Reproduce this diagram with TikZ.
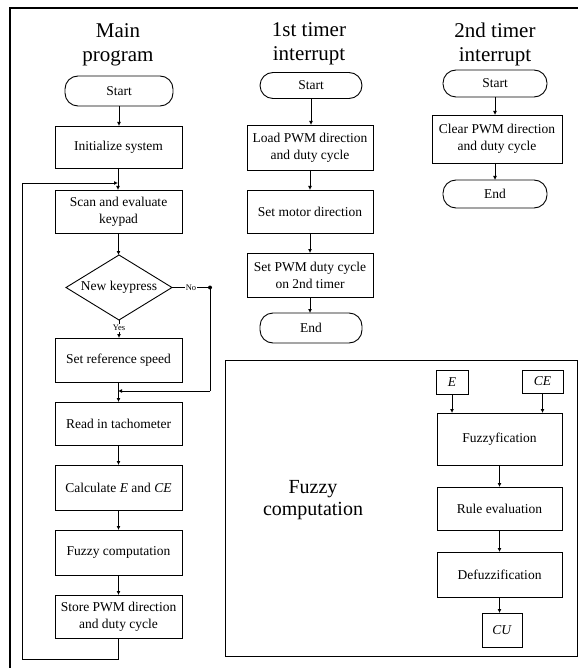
\documentclass[tikz,border=0pt]{standalone}
\usepackage{fontspec}
\setmainfont{Liberation Serif}
\usetikzlibrary{shapes.geometric,arrows.meta}
\begin{document}
\begin{tikzpicture}[x=1pt,y=-1pt,
  every node/.style={inner sep=0pt,outer sep=0pt},
  box/.style={draw,line width=0.9pt,align=center,font=\fontsize{13.5}{17}\selectfont},
  term/.style={draw,line width=0.9pt,rounded corners=13pt,font=\fontsize{13.5}{15}\selectfont},
  dec/.style={draw,diamond,aspect=1.63,line width=0.9pt,font=\fontsize{13.5}{15}\selectfont},
  ttl/.style={align=center,font=\fontsize{21}{24}\selectfont},
  lbl/.style={font=\fontsize{8.5}{9}\selectfont,fill=white,inner sep=1pt},
  arr/.style={line width=0.9pt,-{Latex[length=4pt,width=4pt]}},
  ln/.style={line width=0.9pt}]
\useasboundingbox (0,0) rectangle (582,668);
% outer frame
\draw[line width=2pt] (10,668) -- (10,8) -- (578,8);
% titles
\node[ttl] (t1) at (118,45) {Main\\program};
\node[ttl] (t2) at (309,44) {1st timer\\interrupt};
\node[ttl] (t3) at (495,44) {2nd timer\\interrupt};
% main program
\node[term,minimum width=108,minimum height=30] (mstart) at (119,91) {Start};
\node[box,minimum width=127,minimum height=42] (init) at (118.5,147) {Initialize system};
\node[box,minimum width=127,minimum height=43] (scan) at (118.5,211.5) {Scan and evaluate\\keypad};
\node[dec,minimum width=106,minimum height=65] (newkey) at (119,287.5) {New keypress};
\node[box,minimum width=127,minimum height=44] (setref) at (118.5,360) {Set reference speed};
\node[box,minimum width=127,minimum height=43] (read) at (118.5,423.5) {Read in tachometer};
\node[box,minimum width=127,minimum height=45] (calc) at (118.5,487.5) {Calculate \textit{E} and \textit{CE}};
\node[box,minimum width=127,minimum height=45] (fuzc) at (118.5,552.5) {Fuzzy computation};
\node[box,minimum width=127,minimum height=43] (store) at (118.5,616.5) {Store PWM direction\\and duty cycle};
\coordinate (loopin) at (118,183);
\coordinate (nocorner) at (210,287.5);
\coordinate (join) at (118,391);
\draw[arr] (mstart.south) -- (mstart.south |- init.north);
\draw[ln] (init.south) -- (init.south |- loopin);
\draw[arr] (loopin) -- (loopin |- scan.north);
\draw[arr] (scan.south) -- (scan.south |- newkey.north);
\draw[arr] (newkey.south) -- node[lbl,pos=0.45]{Yes} (newkey.south |- setref.north);
\draw[ln] (newkey.east) -- node[lbl]{No} (nocorner);
\fill (nocorner) circle (2pt);
\draw[ln] (nocorner) -- (nocorner |- join);
\draw[arr] (nocorner |- join) -- (join);
\draw[arr] (setref.south) -- (setref.south |- read.north);
\draw[arr] (read.south) -- (read.south |- calc.north);
\draw[arr] (calc.south) -- (calc.south |- fuzc.north);
\draw[arr] (fuzc.south) -- (fuzc.south |- store.north);
\draw[arr] (store.south) -- ++(0,21) -| (22,183) -- (loopin);
% 1st timer interrupt
\node[term,minimum width=102,minimum height=26] (s1) at (311,85.5) {Start};
\node[box,minimum width=126,minimum height=45] (load) at (310,147.5) {Load PWM direction\\and duty cycle};
\node[box,minimum width=126,minimum height=43] (motor) at (310,211.5) {Set motor direction};
\node[box,minimum width=126,minimum height=44] (pwm) at (310,275) {Set PWM duty cycle\\on 2nd timer};
\node[term,minimum width=102,minimum height=30] (e1) at (311,328) {End};
\draw[arr] (s1.south) -- (s1.south |- load.north);
\draw[arr] (load.south) -- (load.south |- motor.north);
\draw[arr] (motor.south) -- (motor.south |- pwm.north);
\draw[arr] (pwm.south) -- (pwm.south |- e1.north);
% 2nd timer interrupt
\node[term,minimum width=104,minimum height=27] (s2) at (495,83.5) {Start};
\node[box,minimum width=130,minimum height=48] (clear) at (497,139) {Clear PWM direction\\and duty cycle};
\node[term,minimum width=104,minimum height=28] (e2) at (495,194) {End};
\draw[arr] (s2.south) -- (s2.south |- clear.north);
\draw[arr] (clear.south -| e2.north) -- (e2.north);
% fuzzy computation
\draw[ln] (225,360) rectangle (577,656);
\node[align=center,font=\fontsize{20}{22}\selectfont] (fct) at (313,500) {Fuzzy\\computation};
\node[box,minimum width=32,minimum height=24] (E) at (452,382) {\textit{E}};
\node[box,minimum width=41,minimum height=23] (CE) at (542.5,381.5) {\textit{CE}};
\node[box,minimum width=125,minimum height=52] (fz) at (499.5,439) {Fuzzyfication};
\node[box,minimum width=125,minimum height=43] (rule) at (499.5,508.5) {Rule evaluation};
\node[box,minimum width=125,minimum height=45] (defuz) at (499.5,574.5) {Defuzzification};
\node[box,minimum width=40,minimum height=34] (cu) at (502,630) {\textit{CU}};
\draw[arr] (E.south) -- (E.south |- fz.north);
\draw[arr] (CE.south) -- (CE.south |- fz.north);
\draw[arr] (fz.south) -- (fz.south |- rule.north);
\draw[arr] (rule.south) -- (rule.south |- defuz.north);
\draw[arr] (defuz.south) -- (defuz.south |- cu.north);
\end{tikzpicture}
\end{document}
